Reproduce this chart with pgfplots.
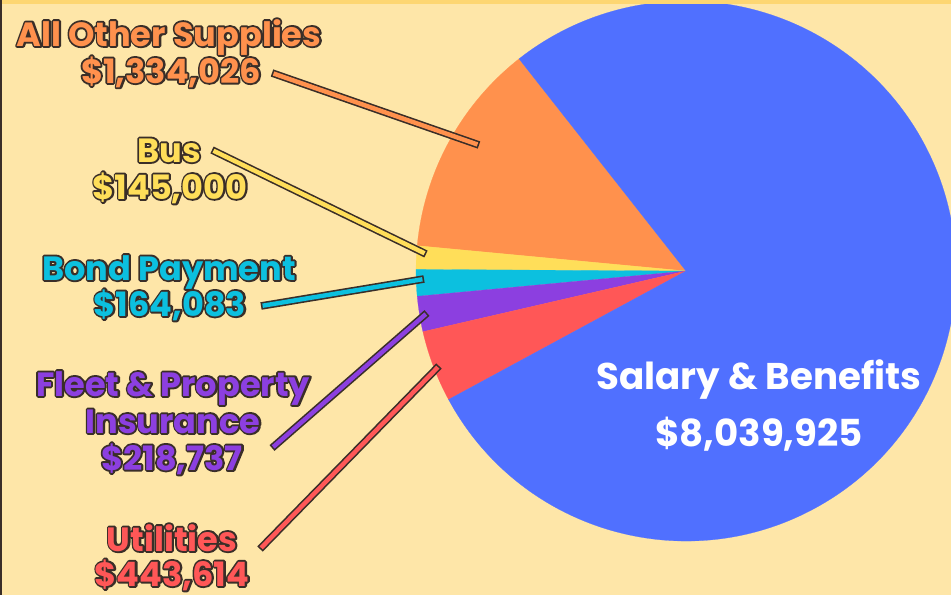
\documentclass[border=0pt]{standalone}
\usepackage{pgfplots}
\pgfplotsset{compat=1.18}
\usepackage{pgfplotstable}
\usepackage{fontspec}
\setmainfont{Poppins}
\definecolor{bg}{HTML}{FEE6A8}
\definecolor{topstrip}{HTML}{FDD672}
\definecolor{cSalary}{HTML}{5070FF}
\definecolor{cOther}{HTML}{FF914D}
\definecolor{cBus}{HTML}{FFDE59}
\definecolor{cBond}{HTML}{0CC0DF}
\definecolor{cFleet}{HTML}{8C3FE0}
\definecolor{cUtil}{HTML}{FF5757}
\definecolor{outl}{HTML}{3A2E28}

\pgfplotstableread{
name value
Other 1334026
Bus 145000
Bond 164083
Fleet 218737
Util 443614
Salary 8039925
}\piedata

% pie wedge i (row of table) in colour
\newcommand\pwedge[2]{%
  \fill[#2, draw=#2, line width=0.1pt] (axis cs:686,271) -- ++(\csname aS#1\endcsname:135pt)
    arc[start angle=\csname aS#1\endcsname, end angle=\csname aE#1\endcsname, radius=135pt] -- cycle;}
% outlined label: stroked dark copy below, coloured text above: x, baseline y, colour, text
\newcommand\olab[4]{%
  \node[anchor=base, text=outl, inner sep=0pt, font=\fontsize{16.8}{19}\selectfont\bfseries] at (axis cs:#1,#2)
   {\special{pdf:literal direct q 2 Tr 1.9 w 1 j 0.227 0.18 0.157 RG}#4\special{pdf:literal direct Q}};
  \node[anchor=base, text=#3, inner sep=0pt, font=\fontsize{16.8}{19}\selectfont\bfseries] at (axis cs:#1,#2) {#4};}
% leader line: colour, x1,y1, x2,y2
\newcommand\leader[5]{%
  \draw[outl, line width=3.8pt] (axis cs:#2,#3) -- (axis cs:#4,#5);
  \draw[#1, line width=2.2pt, shorten <=0.8pt, shorten >=0.8pt] (axis cs:#2,#3) -- (axis cs:#4,#5);}

\begin{document}
\def\total{0}%
\pgfplotsforeachungrouped \i in {0,...,5}{%
  \pgfplotstablegetelem{\i}{value}\of\piedata
  \edef\total{\fpeval{\total+\pgfplotsretval}}%
}%
\def\cur{128.2}%
\pgfplotsforeachungrouped \i in {0,...,5}{%
  \pgfplotstablegetelem{\i}{value}\of\piedata
  \edef\nxt{\fpeval{\cur+360*\pgfplotsretval/\total}}%
  \expandafter\xdef\csname aS\i\endcsname{\cur}%
  \expandafter\xdef\csname aE\i\endcsname{\nxt}%
  \let\cur\nxt
}%
\begin{tikzpicture}
\begin{axis}[
  width=475.5pt, height=297.5pt, scale only axis,
  xmin=0, xmax=951, ymin=0, ymax=595, y dir=reverse,
  axis lines=none, xtick=\empty, ytick=\empty,
  axis background/.style={fill=bg},
  clip=true,
]
\pwedge{0}{cOther}
\pwedge{1}{cBus}
\pwedge{2}{cBond}
\pwedge{3}{cFleet}
\pwedge{4}{cUtil}
\pwedge{5}{cSalary}
\fill[topstrip] (axis cs:0,0) rectangle (axis cs:951,3.5);
\fill[outl] (axis cs:0,0) rectangle (axis cs:1.5,595);

\leader{cOther}{272}{73}{479}{145}
\leader{cBus}{212}{150}{426}{254}
\leader{cBond}{261}{306}{424}{279}
\leader{cFleet}{272}{448}{427}{313}
\leader{cUtil}{260}{549}{439}{366}

\olab{169}{46}{cOther}{All Other Supplies}
\olab{171}{83}{cOther}{\$1,334,026}
\olab{169}{162}{cBus}{Bus}
\olab{170}{199}{cBus}{\$145,000}
\olab{169}{280}{cBond}{Bond Payment}
\olab{170}{316}{cBond}{\$164,083}
\olab{173}{396}{cFleet}{Fleet \& Property}
\olab{173}{433}{cFleet}{Insurance}
\olab{172}{470}{cFleet}{\$218,737}
\olab{172}{551}{cUtil}{Utilities}
\olab{172}{586}{cUtil}{\$443,614}

\node[anchor=base, text=white, inner sep=0pt, font=\fontsize{18.6}{21}\selectfont\bfseries] at (axis cs:759,389) {Salary \& Benefits};
\node[anchor=base, text=white, inner sep=0pt, font=\fontsize{18.6}{21}\selectfont\bfseries] at (axis cs:759,446) {\$8,039,925};
\end{axis}
\pgfresetboundingbox
\useasboundingbox (current axis.south west) rectangle (current axis.north east);
\end{tikzpicture}
\end{document}
